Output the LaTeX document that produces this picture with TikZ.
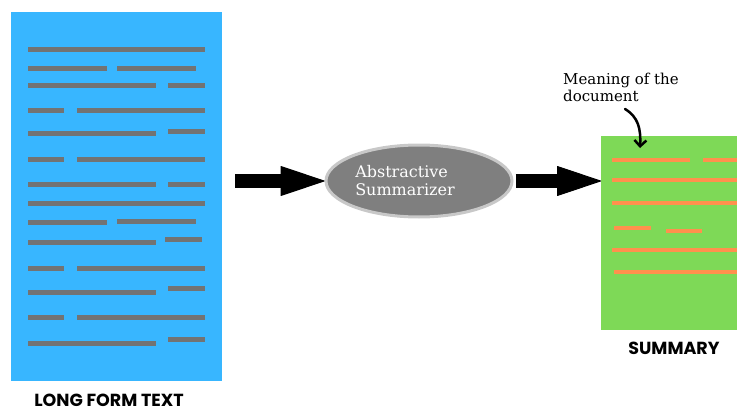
\documentclass[tikz,border=0pt]{standalone}
\usepackage{fontspec}
\setmainfont{DejaVu Serif}
\newfontfamily\labelfont{Poppins}
\usetikzlibrary{arrows.meta,shapes.geometric}

\definecolor{pageblue}{HTML}{38B6FF}
\definecolor{pagegreen}{HTML}{7ED957}
\definecolor{inkgray}{HTML}{737373}
\definecolor{inkorange}{HTML}{FF914D}
\definecolor{enginefill}{HTML}{7F7F7F}
\definecolor{enginerim}{HTML}{C8C8C8}

\tikzset{
  page/.style={draw=none, inner sep=0pt, anchor=north west},
  textline/.style={draw=inkgray, line width=5pt},
  keyline/.style={draw=inkorange, line width=4.5pt},
  caption/.style={anchor=base, inner sep=0pt,
    font=\labelfont\bfseries\fontsize{17.5}{20}\selectfont, text=black},
  bigarrow/.style={line width=14pt,
    -{Triangle[length=45pt, width=30pt, line width=1pt, round]}},
  engine/.style={ellipse, fill=enginefill, draw=enginerim, line width=3pt,
    minimum width=186pt, minimum height=72pt, inner sep=0pt},
  enginetext/.style={text=white, align=left, inner sep=0pt,
    font=\fontsize{16}{18}\selectfont},
  note/.style={align=left, anchor=north west, inner sep=0pt,
    font=\fontsize{15}{17}\selectfont},
  hand/.style={line width=2.5pt, line cap=round,
    -{Straight Barb[length=6pt, width=12pt, line width=2.5pt]}}
}

\begin{document}
\begin{tikzpicture}[x=1pt, y=-1pt]
\useasboundingbox (0,0) rectangle (737,412);

% long document page
\node[page, fill=pageblue, minimum width=211pt, minimum height=369pt] (long) at (11,12) {};
\foreach \y/\a/\b in {50/28/205, 69/28/107, 69/117/196, 86/28/156, 86/168/205,
    111/28/64, 111/77/205, 133/28/156, 131/168/205, 159/28/64, 159/77/205,
    184/28/156, 184/168/205, 203/28/205, 222/28/107, 221/117/196,
    242/28/156, 239/165/202, 268/28/64, 268/77/205, 292/28/156, 288/168/205,
    317/28/64, 317/77/205, 343/28/156, 339/168/205}
  \draw[textline] (\a,\y) -- (\b,\y);
\node[caption] (longcap) at (109,406.5) {LONG FORM TEXT};

% summarizer
\node[engine] (engine) at (419,181) {};
\node[enginetext] (enginelabel) at (405,181) {Abstractive\\Summarizer};

% summary page
\node[page, fill=pagegreen, minimum width=136pt, minimum height=194pt] (summ) at (601,136) {};
\foreach \y/\a/\b in {160/612/690, 160/703/737, 180/612/737, 203/612/737,
    228/614/651, 231/666/702, 250/612/737, 272/614/737}
  \draw[keyline] (\a,\y) -- (\b,\y);
\node[caption] (summcap) at (674,354) {SUMMARY};

% flow arrows
\draw[bigarrow, shorten <=13pt] (long.east |- engine.west) -- (engine.west);
\draw[bigarrow, shorten <=2pt] (engine.east) -- (summ.west |- engine.east);

% annotation
\node[note] (meaning) at (563,73) {Meaning of the\\document};
\coordinate (mark) at (640,148);
\draw[hand] (625,109) .. controls (638,117) and (641,128) .. (mark);
\end{tikzpicture}
\end{document}
